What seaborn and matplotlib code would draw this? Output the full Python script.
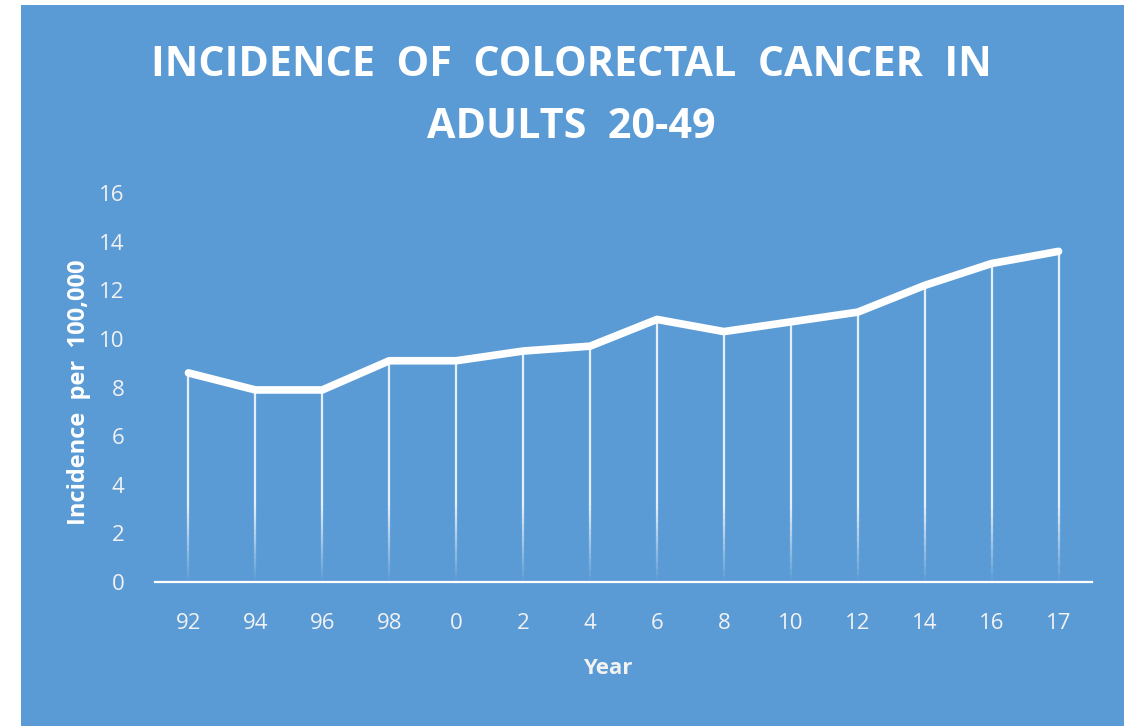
import numpy as np
import pandas as pd
import matplotlib
matplotlib.use("Agg")
import matplotlib.pyplot as plt
from matplotlib.collections import LineCollection
from matplotlib.patches import Rectangle
import seaborn as sns

# ---- data ----
years = ["92", "94", "96", "98", "0", "2", "4", "6", "8", "10", "12", "14", "16", "17"]
incidence = [8.6, 7.9, 7.9, 9.1, 9.1, 9.5, 9.7, 10.8, 10.3, 10.7, 11.1, 12.2, 13.1, 13.6]
y_ticks = [0, 2, 4, 6, 8, 10, 12, 14, 16]
title_lines = ["INCIDENCE  OF  COLORECTAL  CANCER  IN", "ADULTS  20-49"]
x_label = "Year"
y_label = "Incidence  per  100,000"

BG = "#5b9bd5"

sns.set_theme(style="white")
plt.rcParams["font.family"] = ["Open Sans", "DejaVu Sans"]

fig = plt.figure(figsize=(11.3, 7.26), dpi=100)
fig.patch.set_facecolor("white")
fig.patches.append(Rectangle((21 / 1130, 0), 1103 / 1130, 721 / 726,
                             transform=fig.transFigure, facecolor=BG,
                             edgecolor="none", zorder=-10))

ax = fig.add_axes([155 / 1130, 1 - 582 / 726, (1092 - 155) / 1130, (582 - 193) / 726])
ax.set_facecolor("none")

df = pd.DataFrame({"Year": years, "Incidence": incidence})
xpos = np.arange(len(years))

# drop lines with fading bottom
segs, cols = [], []
nsub = 40
for x, v in zip(xpos, incidence):
    ys = np.linspace(0, v, nsub + 1)
    for i in range(nsub):
        mid = (ys[i] + ys[i + 1]) / 2
        a = np.clip(mid / 3.2, 0, 1) * 0.85
        segs.append([(x, ys[i]), (x, ys[i + 1])])
        cols.append((1, 1, 1, a))
lc = LineCollection(segs, colors=cols, linewidths=1.6, zorder=2)
ax.add_collection(lc)

sns.lineplot(data=df, x=xpos, y="Incidence", ax=ax, color="white",
             linewidth=5.5, solid_capstyle="round", solid_joinstyle="round",
             zorder=3, sort=False)

ax.set_xlim(-0.5, len(years) - 0.5)
ax.set_ylim(0, 16)
ax.set_xticks(xpos)
ax.set_xticklabels(years)
ax.set_yticks(y_ticks)
ax.set_yticklabels([str(t) for t in y_ticks])
ax.tick_params(axis="both", length=0, labelsize=16, labelcolor="#f2f2f2")
ax.tick_params(axis="x", pad=22)
ax.tick_params(axis="y", pad=22)

for s in ["top", "right", "left"]:
    ax.spines[s].set_visible(False)
ax.spines["bottom"].set_color("white")
ax.spines["bottom"].set_linewidth(1.6)

ax.set_xlabel("")
ax.set_ylabel("")
fig.text(608 / 1130, 1 - 668 / 726, x_label, ha="center", va="center",
         fontsize=16, fontweight="bold", color="#f2f2f2")
fig.text(79 / 1130, 1 - 392 / 726, y_label, ha="center", va="center",
         rotation=90, fontsize=17, fontweight="bold", color="white")

fig.text(571 / 1130, 1 - 65 / 726, title_lines[0], ha="center", va="center",
         fontsize=29.7, fontweight="bold", color="white")
fig.text(571 / 1130, 1 - 128 / 726, title_lines[1], ha="center", va="center",
         fontsize=29.7, fontweight="bold", color="white")

fig.savefig("out.png", dpi=100, facecolor=fig.get_facecolor())
